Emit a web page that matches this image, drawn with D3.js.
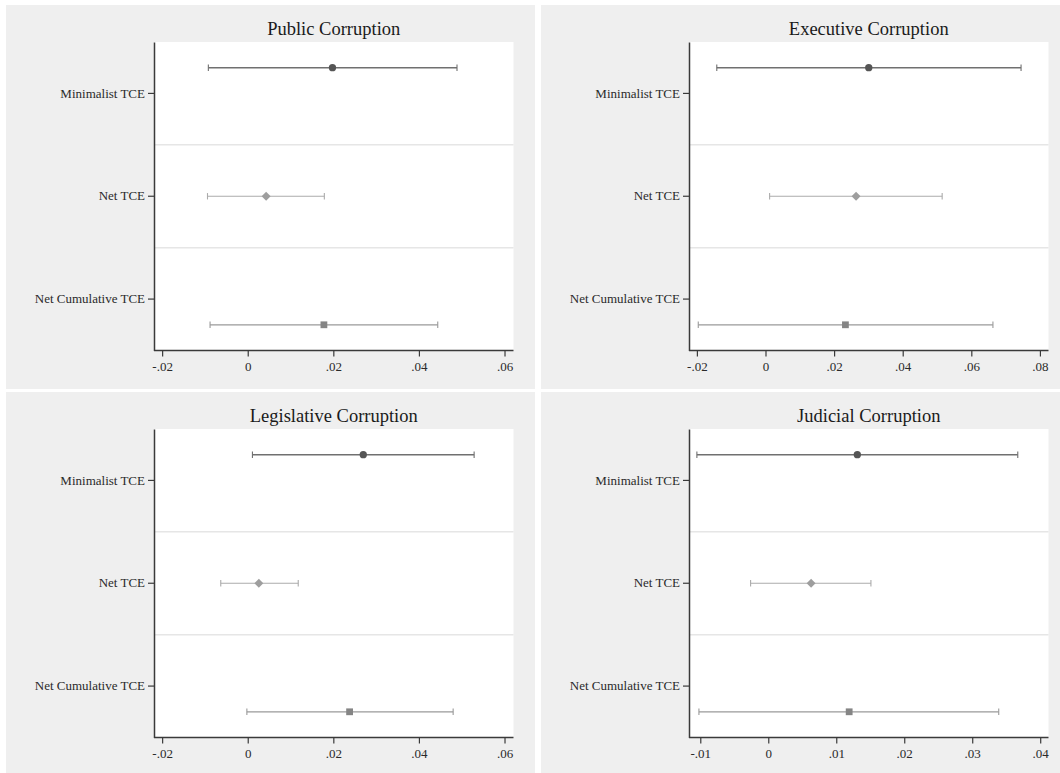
<!DOCTYPE html>
<html>
<head>
<meta charset="utf-8">
<script src="https://cdn.jsdelivr.net/npm/d3@7"></script>
<style>
  html, body { margin: 0; padding: 0; background: #ffffff; }
  svg { display: block; }
</style>
</head>
<body>
<div id="chart"></div>
<script>
// ─── Data ────────────────────────────────────────────────────────────────
const categories = ['Minimalist TCE', 'Net TCE', 'Net Cumulative TCE'];
const panelTitles = ['Public Corruption', 'Executive Corruption', 'Legislative Corruption', 'Judicial Corruption'];

// point estimates per panel, one per category
const publicEst      = [0.0198, 0.0043, 0.0178];
const publicLow      = [-0.0092, -0.0094, -0.0088];
const publicHigh     = [0.0489, 0.0179, 0.0444];

const executiveEst   = [0.0301, 0.0264, 0.0233];
const executiveLow   = [-0.0142, 0.0012, -0.0196];
const executiveHigh  = [0.0745, 0.0515, 0.0663];

const legislativeEst  = [0.0270, 0.0026, 0.0238];
const legislativeLow  = [0.0011, -0.0063, -0.0002];
const legislativeHigh = [0.0529, 0.0118, 0.0480];

const judicialEst    = [0.0131, 0.0063, 0.0119];
const judicialLow    = [-0.0105, -0.0026, -0.0102];
const judicialHigh   = [0.0367, 0.0151, 0.0339];

// x tick labels per panel
const publicTicks      = [-0.02, 0, 0.02, 0.04, 0.06];
const executiveTicks   = [-0.02, 0, 0.02, 0.04, 0.06, 0.08];
const legislativeTicks = [-0.02, 0, 0.02, 0.04, 0.06];
const judicialTicks    = [-0.01, 0, 0.01, 0.02, 0.03, 0.04];

// x ranges (as in the original, slightly padded past the outer ticks)
const publicDomain      = [-0.0219, 0.0621];
const executiveDomain   = [-0.0223, 0.0825];
const legislativeDomain = [-0.0219, 0.0621];
const judicialDomain    = [-0.01166, 0.04122];

const panels = [
  { title: panelTitles[0], est: publicEst, lo: publicLow, hi: publicHigh, ticks: publicTicks, domain: publicDomain },
  { title: panelTitles[1], est: executiveEst, lo: executiveLow, hi: executiveHigh, ticks: executiveTicks, domain: executiveDomain },
  { title: panelTitles[2], est: legislativeEst, lo: legislativeLow, hi: legislativeHigh, ticks: legislativeTicks, domain: legislativeDomain },
  { title: panelTitles[3], est: judicialEst, lo: judicialLow, hi: judicialHigh, ticks: judicialTicks, domain: judicialDomain }
];

// ─── Styling ─────────────────────────────────────────────────────────────
const W = 1060, H = 773;
const FONT = '"Liberation Serif", "Times New Roman", serif';
const panelBg = '#efefef';
const axisColor = '#3a3a3a';
// rot: diamond is a square turned 45 degrees
const seriesStyle = [
  { line: '#707070', fill: '#555555', shape: d3.symbolCircle, size: 42, rot: 0,  lw: 1.4 },
  { line: '#ababab', fill: '#9e9e9e', shape: d3.symbolSquare, size: 40, rot: 45, lw: 1.2 },
  { line: '#9a9a9a', fill: '#858585', shape: d3.symbolSquare, size: 46, rot: 0,  lw: 1.3 }
];

const panelW = 529, panelH = 384;
const origins = [[6, 5], [541, 5], [6, 392], [541, 392]];
const plot = { left: 148, top: 37, width: 359.5, height: 308.5 };

// Stata style tick labels: ".02", "-.02", "0"
function fmtTick(v) {
  if (Math.abs(v) < 1e-12) return '0';
  const s = Math.abs(v).toFixed(2).replace(/^0\./, '.');
  return (v < 0 ? '-' : '') + s;
}

const svg = d3.select('#chart').append('svg')
  .attr('width', W).attr('height', H)
  .style('background', '#ffffff');

panels.forEach((p, i) => {
  const [ox, oy] = origins[i];
  const g = svg.append('g').attr('transform', `translate(${ox},${oy})`);

  g.append('rect')
    .attr('width', panelW).attr('height', panelH)
    .attr('fill', panelBg);

  const x = d3.scaleLinear()
    .domain(p.domain)
    .range([plot.left, plot.left + plot.width]);

  const y = d3.scaleBand()
    .domain(categories)
    .range([plot.top, plot.top + plot.height])
    .padding(0);

  // plot region
  g.append('rect')
    .attr('x', plot.left).attr('y', plot.top)
    .attr('width', plot.width).attr('height', plot.height)
    .attr('fill', '#ffffff');

  // separators between categories
  categories.slice(1).forEach(c => {
    g.append('line')
      .attr('x1', plot.left).attr('x2', plot.left + plot.width)
      .attr('y1', y(c)).attr('y2', y(c))
      .attr('stroke', '#e6e6e6').attr('stroke-width', 1.5);
  });

  // title
  g.append('text')
    .attr('x', plot.left + plot.width / 2).attr('y', 30)
    .attr('text-anchor', 'middle')
    .attr('fill', '#1a1a1a')
    .attr('font-family', FONT).attr('font-size', 18.5)
    .text(p.title);

  // x axis
  g.append('g')
    .attr('transform', `translate(0,${plot.top + plot.height})`)
    .call(d3.axisBottom(x).tickValues(p.ticks).tickFormat(fmtTick)
      .tickSize(6).tickSizeOuter(0).tickPadding(5))
    .attr('font-family', FONT).attr('font-size', 13)
    .call(a => {
      a.select('.domain').attr('stroke', axisColor).attr('stroke-width', 1.5)
        .attr('d', `M${plot.left},0H${plot.left + plot.width}`);
      a.selectAll('.tick line').attr('stroke', axisColor).attr('stroke-width', 1.2);
      a.selectAll('text').attr('fill', '#2a2a2a');
    });

  // y axis
  g.append('g')
    .attr('transform', `translate(${plot.left},0)`)
    .call(d3.axisLeft(y).tickSize(6).tickSizeOuter(0).tickPadding(3))
    .attr('font-family', FONT).attr('font-size', 13)
    .call(a => {
      a.select('.domain').attr('stroke', axisColor).attr('stroke-width', 1.5);
      a.selectAll('.tick line').attr('stroke', axisColor).attr('stroke-width', 1.2);
      a.selectAll('text').attr('fill', '#2a2a2a');
    });

  // estimates: each series sits in its own row, offset a quarter row
  const rows = categories.map((c, k) => ({
    cat: c, k, est: p.est[k], lo: p.lo[k], hi: p.hi[k],
    yy: y(c) + y.bandwidth() / 2 + (k - 1) * y.bandwidth() / 4
  }));

  const capH = 3.2;
  rows.forEach(r => {
    const st = seriesStyle[r.k];
    g.append('line')
      .attr('x1', x(r.lo)).attr('x2', x(r.hi))
      .attr('y1', r.yy).attr('y2', r.yy)
      .attr('stroke', st.line).attr('stroke-width', st.lw);
    [r.lo, r.hi].forEach(v => {
      g.append('line')
        .attr('x1', x(v)).attr('x2', x(v))
        .attr('y1', r.yy - capH).attr('y2', r.yy + capH)
        .attr('stroke', st.line).attr('stroke-width', 1.1);
    });
    g.append('path')
      .attr('transform', `translate(${x(r.est)},${r.yy}) rotate(${st.rot})`)
      .attr('d', d3.symbol().type(st.shape).size(st.size)())
      .attr('fill', st.fill);
  });
});
</script>
</body>
</html>
